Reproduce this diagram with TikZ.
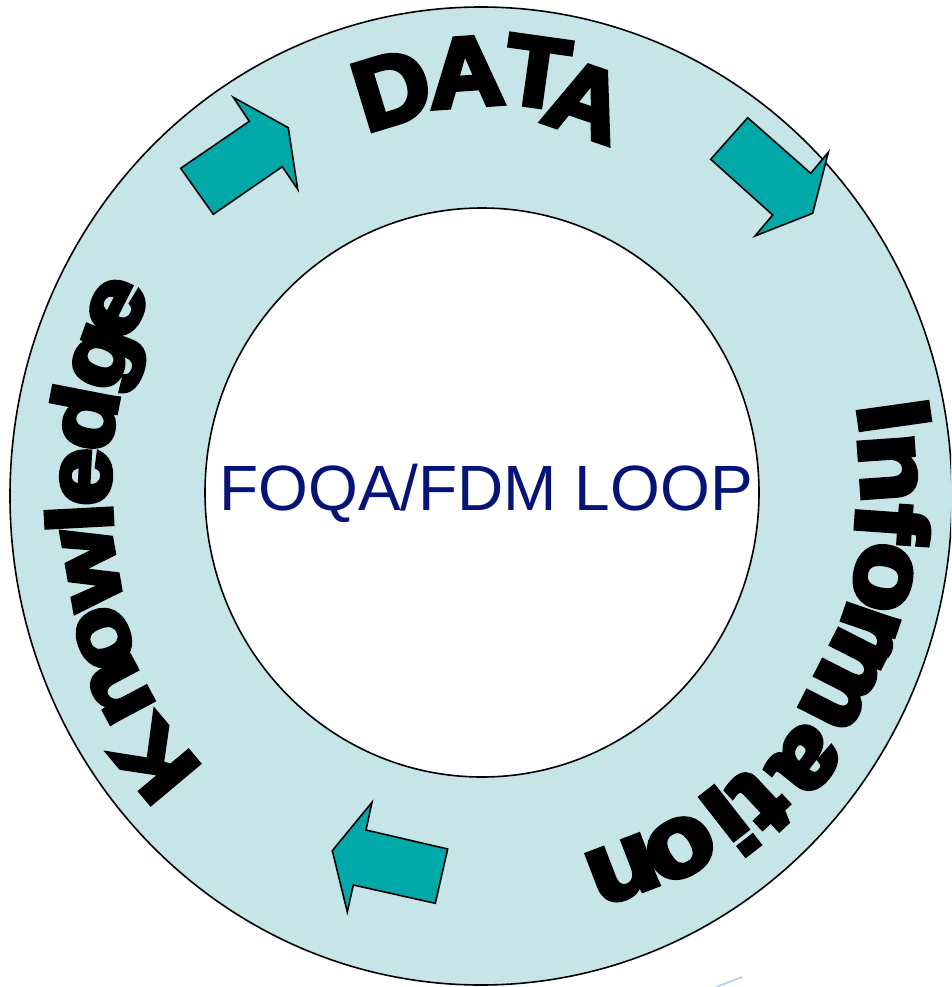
\documentclass[tikz,border=0pt]{standalone}
\usepackage{fontspec}
\setmainfont{Liberation Sans}
\newfontface\heavyfont{Liberation Sans Bold}[FakeBold=5.5]
\definecolor{ringfill}{RGB}{198,229,233}
\definecolor{arrowteal}{RGB}{0,168,168}
\definecolor{loopblue}{RGB}{6,20,120}
\definecolor{faintblue}{RGB}{190,212,238}
\newcommand\placeletter[6]{\node[ringletter, rotate=#5, #6] (#1) at (#3,-#4) {#2};}
\begin{document}
\begin{tikzpicture}[x=1pt,y=1pt,
  ringline/.style={draw=black, line width=1.6pt},
  cyclearrow/.style={draw=black, fill=arrowteal, line width=1.6pt, line join=miter},
  ringletter/.style={inner sep=0pt, outer sep=0pt, anchor=center, text=black},
  dataletter/.style={font=\heavyfont\fontsize{98}{98}\selectfont, xscale=1.05},
  infoletter/.style={font=\heavyfont\fontsize{100}{100}\selectfont, xscale=1.12},
  knowletter/.style={font=\heavyfont\fontsize{90}{90}\selectfont, xscale=1.14},
  looptext/.style={font=\fontsize{64}{64}\selectfont, text=loopblue, inner sep=0pt, anchor=base}
]
\useasboundingbox (0,0) rectangle (951,-987);
\fill[white] (0,0) rectangle (951,-987);
\clip (0,0) rectangle (951,-987);

% ring
\draw[ringline, fill=ringfill, even odd rule]
  (481,-496) ellipse [x radius=471, y radius=489]
  (482,-492.5) ellipse [x radius=277, y radius=284.5];

% faint mark at the bottom edge
\draw[faintblue, line width=2pt] (716,-987) -- (742,-977);

% arrows
\draw[cyclearrow] (180.7,-168.3) -- (249.3,-121.3) -- (233.3,-97.3) -- (288.3,-127.7)
  -- (297.7,-189.3) -- (282.3,-166.7) -- (213.3,-214.3) -- cycle;
\draw[cyclearrow] (710.7,-159.3) -- (747.7,-117.7) -- (810.7,-173.3) -- (828.3,-152.3)
  -- (812.7,-213.3) -- (755,-236) -- (772.7,-215) -- cycle;
\draw[cyclearrow] (447.7,-849) -- (435.3,-903.3) -- (353.3,-885) -- (347.3,-912)
  -- (332.3,-850.7) -- (372,-802.3) -- (366,-830) -- cycle;

% centre text
\node[looptext] (loop) at (486,-510) {FOQA/FDM LOOP};

% DATA
\placeletter{d1}{D}{392}{89}{17}{dataletter}
\placeletter{d2}{A}{466}{72}{4}{dataletter}
\placeletter{d3}{T}{537}{72}{-8}{dataletter}
\placeletter{d4}{A}{586}{101}{-19}{dataletter}

% Information
\placeletter{i1}{I}{894}{416}{-82}{infoletter}
\placeletter{i2}{n}{888}{468}{-86}{infoletter}
\placeletter{i3}{f}{893}{523}{-94}{infoletter}
\placeletter{i4}{o}{883}{577}{-101}{infoletter}
\placeletter{i5}{r}{869}{627}{-109}{infoletter}
\placeletter{i6}{m}{844}{680}{-117}{infoletter}
\placeletter{i7}{a}{806}{760}{-129}{infoletter}
\placeletter{i8}{t}{761}{801}{-137}{infoletter}
\placeletter{i9}{i}{730}{821}{-142}{infoletter}
\placeletter{i10}{o}{680}{848}{-150}{infoletter}
\placeletter{i11}{n}{623}{870}{-159}{infoletter}

% Knowledge
\placeletter{k1}{K}{155}{760}{130}{knowletter}
\placeletter{k2}{n}{120}{690}{118}{knowletter}
\placeletter{k3}{o}{104}{638}{111}{knowletter}
\placeletter{k4}{w}{92}{568}{100}{knowletter}
\placeletter{k5}{l}{79}{518}{93}{knowletter}
\placeletter{k6}{e}{86}{477}{87}{knowletter}
\placeletter{k7}{d}{82}{417}{79}{knowletter}
\placeletter{k8}{g}{110}{360}{70}{knowletter}
\placeletter{k9}{e}{117}{308}{63}{knowletter}
\end{tikzpicture}
\end{document}
